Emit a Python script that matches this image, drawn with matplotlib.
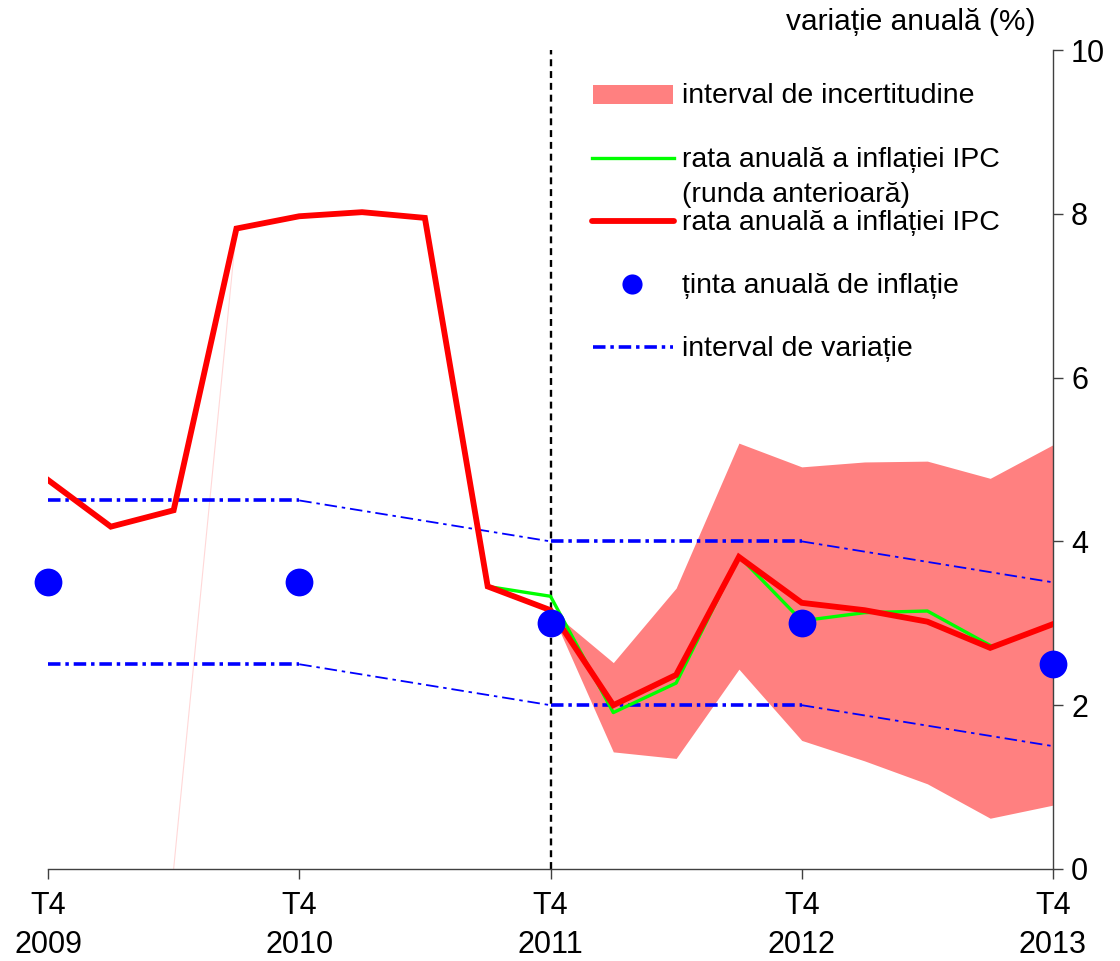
import numpy as np
import matplotlib
matplotlib.use('Agg')
import matplotlib.pyplot as plt
from matplotlib.patches import Rectangle
from matplotlib.lines import Line2D

plt.rcParams['font.family'] = ['Liberation Sans', 'DejaVu Sans']
plt.rcParams['lines.scale_dashes'] = False

# quarters T4 2009 .. T4 2013
quarters = np.arange(17)
tick_pos = [0, 4, 8, 12, 16]
tick_labels = ['T4\n2009', 'T4\n2010', 'T4\n2011', 'T4\n2012', 'T4\n2013']

# annual CPI inflation (current round)
cpi = [4.75, 4.18, 4.38, 7.82, 7.97, 8.02, 7.95, 3.45, 3.16,
       2.00, 2.37, 3.81, 3.25, 3.16, 3.02, 2.70, 2.99]
# previous round forecast (from T3 2011)
cpi_prev_x = [7, 8, 9, 10, 11, 12, 13, 14, 15]
cpi_prev = [3.45, 3.33, 1.91, 2.27, 3.82, 3.03, 3.13, 3.15, 2.73]

# uncertainty band (from T4 2011)
band_x = [8, 9, 10, 11, 12, 13, 14, 15, 16]
band_lo = [3.16, 1.43, 1.35, 2.44, 1.57, 1.32, 1.04, 0.62, 0.78]
band_hi = [3.16, 2.52, 3.43, 5.20, 4.91, 4.97, 4.98, 4.77, 5.18]

# faint stray series (artifact in original)
stray_x = [2, 3]
stray_y = [0.0, 7.82]

# inflation targets
target_x = [0, 4, 8, 12, 16]
target = [3.5, 3.5, 3.0, 3.0, 2.5]

# variation interval
var_hi = [4.5, 4.5, 4.5, 4.5, 4.5, 4.375, 4.25, 4.125, 4.0,
          4.0, 4.0, 4.0, 4.0, 3.875, 3.75, 3.625, 3.5]
var_lo = [v - 2.0 for v in var_hi]

fig = plt.figure(figsize=(11.2, 9.61), dpi=100)
ax = fig.add_axes([48 / 1120, 1 - 869 / 961, (1053 - 48) / 1120, (869 - 50) / 961])

RED = '#ff0000'
GREEN = '#00ff00'
BLUE = '#0000ff'
BAND = '#ff8080'
DASHDOT = (0, (9, 3.5, 2.5, 3.5))

ax.fill_between(band_x, band_lo, band_hi, color=BAND, linewidth=0, zorder=1)
ax.plot(stray_x, stray_y, color='#ffd8d8', linewidth=0.8, zorder=1)

# variation interval: thick when flat, thin when declining
for seg, lw in [((0, 5), 2.6), ((4, 9), 1.3), ((8, 13), 2.6), ((12, 17), 1.3)]:
    s = slice(*seg)
    for arr in (var_hi, var_lo):
        ax.plot(quarters[s], arr[s], color=BLUE, linewidth=lw, linestyle=DASHDOT,
                dash_capstyle='butt', zorder=2)

ax.axvline(8, color='black', linewidth=1.7, linestyle=(0, (5, 3.5)), zorder=2)

ax.plot(cpi_prev_x, cpi_prev, color=GREEN, linewidth=2.4, zorder=3)
ax.plot(quarters, cpi, color=RED, linewidth=4.2, solid_joinstyle='miter', zorder=4)
ax.plot(target_x, target, 'o', color=BLUE, markersize=20, markeredgewidth=0,
        linestyle='none', zorder=5, clip_on=False)

ax.set_xlim(0, 16)
ax.set_ylim(0, 10)
for side in ['left', 'top']:
    ax.spines[side].set_visible(False)
for side in ['right', 'bottom']:
    ax.spines[side].set_color('#404040')
    ax.spines[side].set_linewidth(1.0)

ax.yaxis.tick_right()
ax.set_yticks([0, 2, 4, 6, 8, 10])
ax.set_xticks(tick_pos)
ax.set_xticklabels(tick_labels, linespacing=1.38)
ax.tick_params(axis='y', direction='out', length=7, width=1.0, color='#404040',
               labelsize=22, pad=6)
ax.tick_params(axis='x', direction='out', length=7, width=1.0, color='#404040',
               labelsize=22, pad=9)

fig.text(1035 / 1120, 1 - 22 / 961, 'variație anuală (%)', fontsize=21.5,
         ha='right', va='center')

# legend drawn manually in figure pixel coordinates
def fx(px):
    return px / 1120

def fy(py):
    return 1 - py / 961

fs = 20.5
fig.patches.append(Rectangle((fx(593), fy(104)), fx(673) - fx(593), fy(85) - fy(104),
                             transform=fig.transFigure, color=BAND, linewidth=0))
fig.text(fx(682), fy(96), 'interval de incertitudine', fontsize=fs, va='center')

fig.lines.append(Line2D([fx(592), fx(674)], [fy(158), fy(158)], transform=fig.transFigure,
                        color=GREEN, linewidth=2.4))
fig.text(fx(682), fy(160), 'rata anuală a inflației IPC', fontsize=fs, va='center')
fig.text(fx(682), fy(195), '(runda anterioară)', fontsize=fs, va='center')

fig.lines.append(Line2D([fx(592), fx(674)], [fy(221), fy(221)], transform=fig.transFigure,
                        color=RED, linewidth=4.2, solid_capstyle='round'))
fig.text(fx(682), fy(223), 'rata anuală a inflației IPC', fontsize=fs, va='center')

fig.lines.append(Line2D([fx(632)], [fy(284)], transform=fig.transFigure, marker='o',
                        color=BLUE, markersize=14.5, markeredgewidth=0, linestyle='none'))
fig.text(fx(682), fy(286), 'ținta anuală de inflație', fontsize=fs, va='center')

fig.lines.append(Line2D([fx(593), fx(673)], [fy(347), fy(347)], transform=fig.transFigure,
                        color=BLUE, linewidth=2.6, linestyle=DASHDOT, dash_capstyle='butt'))
fig.text(fx(682), fy(349), 'interval de variație', fontsize=fs, va='center')

fig.savefig('out.png', dpi=100)
plt.close(fig)
